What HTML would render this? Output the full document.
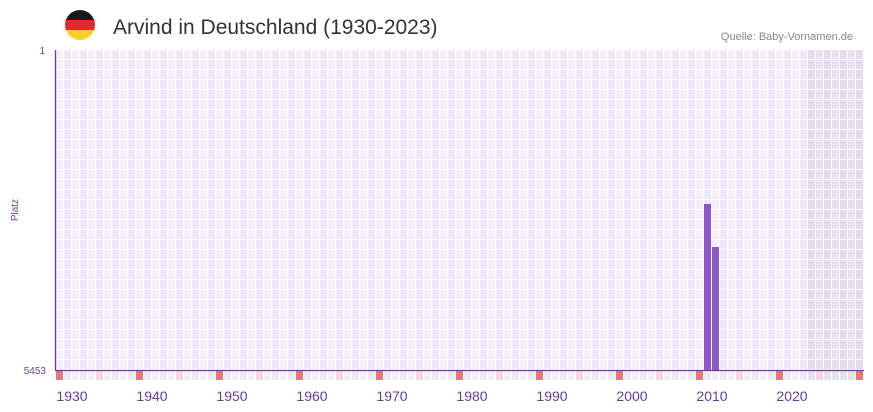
<!DOCTYPE html>
<html><head><meta charset="utf-8"><style>
html,body{margin:0;padding:0;background:#fff;width:873px;height:412px;overflow:hidden;font-family:"Liberation Sans",sans-serif}
</style></head><body>
<svg id="s" width="873" height="412" xmlns="http://www.w3.org/2000/svg">
<defs><clipPath id="c"><circle cx="80" cy="25" r="15"/></clipPath></defs>
<g clip-path="url(#c)"><rect x="65" y="10" width="30" height="10" fill="#1a1a1a"/><rect x="65" y="20" width="30" height="10" fill="#dd2a2a"/><rect x="65" y="30" width="30" height="10" fill="#f8cf2c"/></g>
<text x="113" y="34" font-size="21" fill="#333">Arvind in Deutschland (1930-2023)</text>
<text x="853" y="40" font-size="11" fill="#888" text-anchor="end">Quelle: Baby-Vornamen.de</text>
<g id="g"></g>
<line x1="55.5" y1="50" x2="55.5" y2="370" stroke="#6a3d9a" stroke-width="1.3"/>
<line x1="55" y1="370.5" x2="864" y2="370.5" stroke="#6a3d9a" stroke-width="1.3"/>
<text x="45" y="54" font-size="10" fill="#6a3d9a" text-anchor="end">1</text>
<text x="46" y="374" font-size="10" fill="#6a3d9a" text-anchor="end">5453</text>
<text x="18" y="210" font-size="10" fill="#6a3d9a" text-anchor="middle" transform="rotate(-90 18 210)">Platz</text>
</svg>
<script>
var g=document.getElementById('g'),h='';
for(var i=0;i<101;i++){var x=56+8*i;var shade=i>=94;
 for(var r=0;r<32;r++){var y=50+10*r;var c=shade?(i%2?'#e6e1ef':'#e2dcee'):(i%2?'#ede7f8':'#f3effb');
  h+='<rect x="'+x+'" y="'+y+'" width="7" height="9" fill="'+c+'"/>';}
 var bc=(i%10==0)?'#e57580':(i%10==5)?'#f4d7de':(shade?'#e6e1ef':(i%2?'#ede7f8':'#f3effb'));
 h+='<rect x="'+x+'" y="371" width="7" height="9" fill="'+bc+'"/>';
}
h+='<rect x="704" y="204" width="7" height="166" fill="#8e55c8"/>';
h+='<rect x="712" y="247" width="7" height="123" fill="#8e55c8"/>';
for(var k=0;k<10;k++){h+='<text x="'+(72+80*k)+'" y="401" font-size="14" fill="#6a3d9a" text-anchor="middle">'+(1930+10*k)+'</text>';}
g.innerHTML=h;
</script>
</body></html>
